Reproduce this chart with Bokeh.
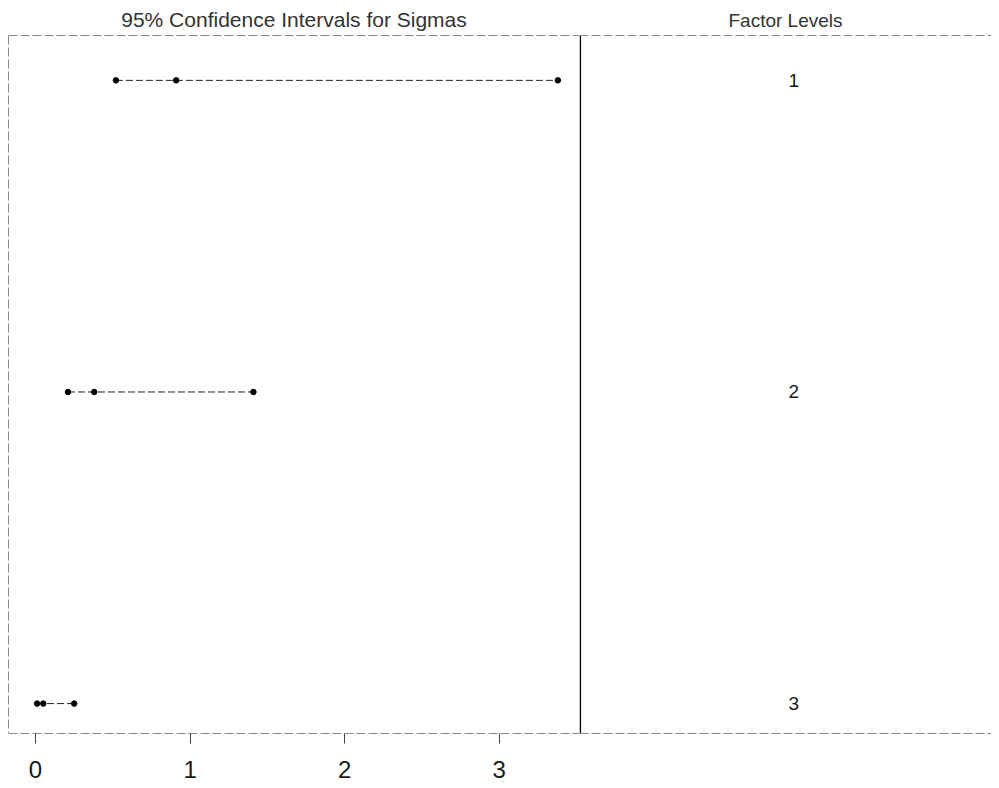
from bokeh.plotting import figure
from bokeh.layouts import row
from bokeh.models import Span, FixedTicker, Range1d, ColumnDataSource
from bokeh.embed import file_html
from bokeh.resources import INLINE

# Data
levels = ["1", "2", "3"]
level_pos = [3, 2, 1]
lower = [0.52, 0.21, 0.01]
sigma = [0.91, 0.38, 0.05]
upper = [3.38, 1.41, 0.25]
x_ticks = [0, 1, 2, 3]

FONT = "Liberation Sans"
INK = "#1a1a1a"
FRAME = "#111111"

yr = Range1d(0.904, 3.144)
XLO, XHI = -0.175, 3.52

p1 = figure(width=579, height=786, x_range=Range1d(XLO, XHI), y_range=yr,
            output_backend="svg", toolbar_location=None,
            min_border_left=8, min_border_right=0, min_border_top=35, min_border_bottom=53,
            title="95% Confidence Intervals for Sigmas")
p1.title.align = "center"
p1.title.text_font = FONT
p1.title.text_font_size = "21px"
p1.title.text_font_style = "normal"
p1.title.text_color = "#333333"
p1.outline_line_color = None
p1.xgrid.visible = False
p1.ygrid.visible = False
p1.yaxis.visible = False
p1.xaxis.ticker = FixedTicker(ticks=x_ticks)
p1.xaxis.axis_line_color = None
p1.xaxis.major_tick_out = 10
p1.xaxis.major_tick_in = 0
p1.xaxis.major_tick_line_color = "#444444"
p1.xaxis.minor_tick_line_color = None
p1.xaxis.major_label_standoff = 17
p1.xaxis.major_label_text_font = FONT
p1.xaxis.major_label_text_font_size = "24px"
p1.xaxis.major_label_text_color = INK

src = ColumnDataSource(dict(y=level_pos, lo=lower, s=sigma, hi=upper))
p1.segment(x0="lo", x1="hi", y0="y", y1="y", source=src, line_color="#222222",
           line_width=1, line_dash="7 3")
p1.scatter(x="lo", y="y", source=src, size=5.5, color="black")
p1.scatter(x="s", y="y", source=src, size=5.5, color="black")
p1.scatter(x="hi", y="y", source=src, size=5.5, color="black")

for loc, dim in [(yr.end, "width"), (yr.start, "width"), (XLO, "height")]:
    p1.add_layout(Span(location=loc, dimension=dim, line_dash="9 3",
                       line_color=FRAME, line_width=1))

p2 = figure(width=412, height=786, x_range=Range1d(0, 1), y_range=yr,
            output_backend="svg", toolbar_location=None,
            min_border_left=0, min_border_right=0, min_border_top=35, min_border_bottom=53,
            title="Factor Levels")
p2.title.align = "center"
p2.title.text_font = FONT
p2.title.text_font_size = "19px"
p2.title.text_font_style = "normal"
p2.title.text_color = "#333333"
p2.outline_line_color = None
p2.xgrid.visible = False
p2.ygrid.visible = False
p2.xaxis.visible = False
p2.yaxis.visible = False
lsrc = ColumnDataSource(dict(x=[0.52] * len(levels), y=level_pos, t=levels))
p2.text(x="x", y="y", text="t", source=lsrc, text_align="center",
        text_baseline="middle", text_font_size="19px", text_color=INK,
        text_font={"value": FONT})
for loc in [yr.end, yr.start]:
    p2.add_layout(Span(location=loc, dimension="width", line_dash="9 3",
                       line_color=FRAME, line_width=1))
p2.add_layout(Span(location=0.002, dimension="height", line_color="black", line_width=1.5))

layout = row(p1, p2, spacing=0)
open("out.html", "w").write(file_html(layout, INLINE))
